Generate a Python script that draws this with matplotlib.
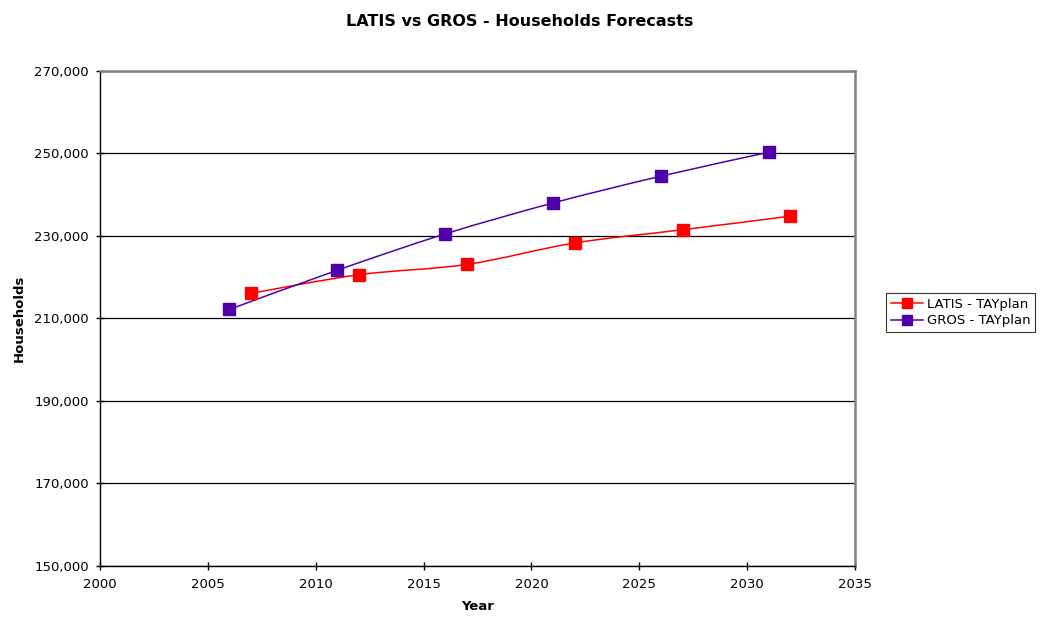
import matplotlib
matplotlib.use("Agg")
import matplotlib.pyplot as plt
from matplotlib.path import Path
from matplotlib.patches import PathPatch
from matplotlib.lines import Line2D

# Data
latis_years = [2007, 2012, 2017, 2022, 2027, 2032]
latis_households = [216100, 220600, 223100, 228300, 231500, 234800]

gros_years = [2006, 2011, 2016, 2021, 2026, 2031]
gros_households = [212200, 221700, 230500, 238000, 244500, 250300]

y_ticks = [150000, 170000, 190000, 210000, 230000, 250000, 270000]
x_ticks = [2000, 2005, 2010, 2015, 2020, 2025, 2030, 2035]


# Excel-style smoothed line: cubic Bezier segments through every point
def smooth_path(xs, ys, tension=1 / 6):
    verts = [(xs[0], ys[0])]
    codes = [Path.MOVETO]
    n = len(xs)
    for i in range(n - 1):
        x0, y0 = (xs[i - 1], ys[i - 1]) if i > 0 else (xs[i], ys[i])
        x1, y1 = xs[i], ys[i]
        x2, y2 = xs[i + 1], ys[i + 1]
        x3, y3 = (xs[i + 2], ys[i + 2]) if i + 2 < n else (x2, y2)
        c1 = (x1 + (x2 - x0) * tension, y1 + (y2 - y0) * tension)
        c2 = (x2 - (x3 - x1) * tension, y2 - (y3 - y1) * tension)
        verts += [c1, c2, (x2, y2)]
        codes += [Path.CURVE4] * 3
    return Path(verts, codes)


fig = plt.figure(figsize=(10.4, 6.17), dpi=100)
ax = fig.add_axes([0.0962, 0.0827, 0.7260, 0.8023])

series = [
    (latis_years, latis_households, "#FF0000", "LATIS - TAYplan"),
    (gros_years, gros_households, "#5000A8", "GROS - TAYplan"),
]
handles = []
for xs, ys, color, label in series:
    ax.add_patch(PathPatch(smooth_path(xs, ys), facecolor="none",
                           edgecolor=color, linewidth=1.1, zorder=3))
    ax.plot(xs, ys, linestyle="none", marker="s", markersize=8.5,
            color=color, zorder=4)
    handles.append(Line2D([], [], color=color, linewidth=1.1, marker="s",
                          markersize=7.5, label=label))

ax.set_xlim(2000, 2035)
ax.set_ylim(150000, 270000)
ax.set_xticks(x_ticks)
ax.set_yticks(y_ticks)
ax.set_yticklabels([f"{v:,}" for v in y_ticks])
ax.tick_params(direction="inout", length=6, width=1, labelsize=9.5,
               colors="black")
ax.tick_params(axis="x", pad=6)
ax.tick_params(axis="y", pad=5)
ax.yaxis.grid(True, color="black", linewidth=0.9)
ax.set_axisbelow(True)

for side in ["top", "right"]:
    ax.spines[side].set_color("#808080")
    ax.spines[side].set_linewidth(1.8)
for side in ["left", "bottom"]:
    ax.spines[side].set_color("black")
    ax.spines[side].set_linewidth(1.0)

ax.set_xlabel("Year", fontsize=9.5, fontweight="bold", labelpad=6)
ax.set_ylabel("Households", fontsize=9.5, fontweight="bold", labelpad=6)
fig.suptitle("LATIS vs GROS - Households Forecasts", fontsize=11.5,
             fontweight="bold", y=0.978)

leg = fig.legend(handles=handles, loc="center left",
                 bbox_to_anchor=(0.846, 0.4935), fontsize=9.5, frameon=True,
                 fancybox=False, edgecolor="black", handlelength=2.4,
                 borderpad=0.35, labelspacing=0.3, handletextpad=0.3)
leg.get_frame().set_linewidth(0.8)

fig.savefig("out.png", dpi=100)
